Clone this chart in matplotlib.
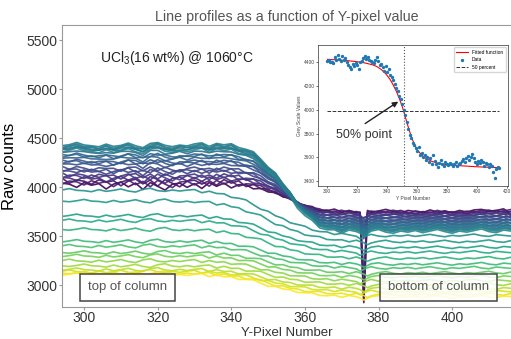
import numpy as np
import matplotlib
matplotlib.use('Agg')
import matplotlib.pyplot as plt

plt.rcParams['font.family'] = ['Liberation Sans', 'DejaVu Sans']
plt.rcParams['mathtext.default'] = 'regular'

# sample positions of the profiles (extra samples around the dead pixel)
x_pix = np.concatenate([np.arange(294, 375, 2), [375, 376, 377], np.arange(378, 417, 2)])

# normalised step shapes (1 = top plateau, 0 = bottom plateau)
shape_sharp = [1.0] * 24 + [0.98, 0.94, 0.89, 0.83, 0.76, 0.66, 0.55, 0.43, 0.31, 0.20,
                            0.12, 0.06, 0.03, 0.01] + [0.0] * 26
shape_soft = [1.0] * 17 + [0.99, 0.98, 0.97, 0.95, 0.93, 0.90, 0.86, 0.81, 0.75, 0.68,
                           0.61, 0.53, 0.45, 0.38, 0.31, 0.25, 0.19, 0.14, 0.10, 0.07,
                           0.05, 0.03, 0.02, 0.01] + [0.0] * 23

# shared wiggles along the column (counts)
wiggle_a = [0, 15, 35, 10, 5, -10, 20, -5, 10, 30, 0, -15, 25, 40, 5, -5, 15, 0, 20, 35,
            -5, 30, 10, 25, 0, 20, 35, 10, -10, 15, 0, 10, -10, 5, 20, -5, 0, 15, -10, 20,
            5, -10, -40, -15, 10, 25, 0, -10, 10, 0, 15, -5, 10, 25, 5, -10, 10, 0, 15, 30,
            5, -5, 20, 10]
wiggle_b = [-20, 10, 0, -30, 15, -10, 5, -45, 0, 20, -25, 10, -50, 15, -20, -55, 0, 10, -30, 5,
            -40, 15, -20, 10, -35, 0, 10, -15, 5, -10, 10, 0, 15, -5, 10, 20, -5, 5, 25, 0,
            10, 0, -10, 5, 15, 0, 10, 25, 5, -10, 15, 5, -5, 20, 0, 10, -5, 15, 0, 20,
            25, 5, 15, 30]

# plateau levels of each profile, in acquisition order
bundle_top = [4030, 4060, 4050, 4090, 4120, 4110, 4160, 4190, 4170, 4230, 4260,
              4250, 4290, 4320, 4310, 4350, 4380, 4400, 4385, 4420, 4405, 4360]
bundle_bottom = [3745, 3735, 3740, 3725, 3715, 3705, 3695, 3685, 3675, 3665, 3655,
                 3645, 3635, 3625, 3615, 3605, 3595, 3585, 3575, 3565, 3555, 3540]
late_top = [3960, 3850, 3700, 3650, 3560, 3440, 3390, 3325, 3290, 3240, 3190, 3150, 3130, 3115, 3100]
late_bottom = [3500, 3440, 3380, 3330, 3270, 3210, 3170, 3120, 3080, 3040, 3000, 2960, 2930, 2900, 2875]
spike_depth = [930, 880, 620, 250, 120]

# inset: one profile with its fit
inset_x = np.arange(300, 416)
inset_y = [4410, 4420, 4405, 4400, 4395, 4445, 4420, 4460, 4430, 4410,
           4455, 4420, 4440, 4400, 4380, 4360, 4345, 4390, 4370, 4395,
           4380, 4340, 4400, 4410, 4440, 4450, 4430, 4445, 4420, 4410,
           4405, 4395, 4420, 4445, 4410, 4380, 4390, 4360, 4330, 4370,
           4320, 4340, 4290, 4280, 4250, 4220, 4180, 4160, 4120, 4090,
           4050, 4000, 3960, 3900, 3840, 3790, 3760, 3720, 3700, 3680,
           3650, 3690, 3620, 3640, 3600, 3620, 3580, 3600, 3560, 3590,
           3540, 3620, 3570, 3540, 3520, 3555, 3575, 3545, 3530, 3560,
           3540, 3535, 3555, 3540, 3525, 3545, 3560, 3530, 3545, 3550,
           3570, 3585, 3560, 3590, 3610, 3580, 3600, 3625, 3590, 3560,
           3545, 3570, 3550, 3580, 3560, 3530, 3550, 3545, 3520, 3540,
           3530, 3480, 3425, 3500, 3520, 3510]
fit_x = [300, 305, 310, 315, 320, 325, 330, 333, 336, 339, 342, 344, 346, 348, 350,
         351, 352, 354, 356, 358, 360, 363, 366, 370, 375, 380, 390, 400, 410, 415]
fit_y = [4425, 4422, 4418, 4412, 4405, 4395, 4380, 4365, 4340, 4305, 4255, 4210, 4160, 4100, 4030,
         3990, 3945, 3860, 3780, 3715, 3665, 3620, 3590, 3565, 3548, 3538, 3528, 3520, 3515, 3512]
half_x = 351.5
half_y = 3990

fig = plt.figure(figsize=(5.11, 3.39), dpi=100)
ax = fig.add_axes([0.1213, 0.0944, 0.8787, 0.8319])

wa = np.array(wiggle_a, dtype=float)
wb = np.array(wiggle_b, dtype=float)
spike_i = list(x_pix).index(376)

nb = len(bundle_top)
t = np.linspace(0, 1, nb)
bundle_colors = plt.cm.viridis(0.45 * t ** 0.7)
for i in range(nb):
    mix = t[i]
    shift = (i * 2) % 3 - 1
    wig = 1.1 * ((1 - mix) * np.roll(wb, shift) + mix * wa)
    y = bundle_bottom[i] + (bundle_top[i] - bundle_bottom[i]) * np.array(shape_sharp) + wig
    if i < len(spike_depth):
        y[spike_i] -= spike_depth[i]
    ax.plot(x_pix, y, color=bundle_colors[i], lw=1.2, alpha=0.9)

nl = len(late_top)
late_colors = plt.cm.viridis(np.linspace(0.5, 1.0, nl))
for i in range(nl):
    shift = (i * 2) % 3 - 1
    wig = 0.7 * np.roll(wa, shift)
    y = late_bottom[i] + (late_top[i] - late_bottom[i]) * np.array(shape_soft) + wig
    ax.plot(x_pix, y, color=late_colors[i], lw=1.2, alpha=0.9)

ax.set_xlim(294, 416)
ax.set_ylim(2776, 5655)
ax.set_xticks(range(300, 401, 20))
ax.set_yticks(range(3000, 5501, 500))
for s in ['left', 'bottom', 'top']:
    ax.spines[s].set_color('#999999')
ax.spines['right'].set_visible(False)
ax.tick_params(labelsize=10, labelcolor='#333333', color='#999999', length=2, pad=1)
ax.set_title('Line profiles as a function of Y-pixel value', fontsize=10.3, color='#555555', pad=3)
ax.set_xlabel('Y-Pixel Number', fontsize=9.5, color='#333333')
ax.xaxis.set_label_coords(0.5, -0.071)
ax.set_ylabel('Raw counts', fontsize=12)
ax.yaxis.set_label_coords(-0.1, 0.5)

fig.text(0.196, 0.829, 'UCl$_3$(16 wt%) @ 1060°C', fontsize=10, color='#222222', va='center')
box = dict(boxstyle='square,pad=0.6', fc=(1, 1, 1, 0.85), ec='#444444', lw=1.1)
fig.text(0.2495, 0.152, 'top of column', fontsize=9.5, color='#555555', ha='center', va='center', bbox=box)
fig.text(0.858, 0.152, 'bottom of column', fontsize=9.5, color='#555555', ha='center', va='center', bbox=box)

# inset
ins = fig.add_axes([318 / 511, 1 - 186 / 339, 190 / 511, 141 / 339])
ins.scatter(inset_x, inset_y, s=2, color='#1f77b4', label='Data', zorder=3)
ins.plot(fit_x, fit_y, color='red', lw=0.8, label='Fitted function', zorder=2)
ins.hlines(half_y, 300, 415, colors='#333333', linestyles='--', lw=0.7, label='50 percent')
ins.axvline(half_x, color='#555555', ls=':', lw=0.8)
ins.set_xlim(293.7, 420.9)
ins.set_ylim(3358, 4546)
ins.set_xticks(range(300, 421, 20))
ins.set_yticks(range(3400, 4401, 200))
ins.tick_params(labelsize=3.5, length=1.5, width=0.4, pad=1, labelcolor='#444444')
for s in ins.spines.values():
    s.set_linewidth(0.5)
    s.set_color('#333333')
ins.set_xlabel('Y Pixel Number', fontsize=3.5, color='#444444', labelpad=1)
ins.set_ylabel('Grey Scale Values', fontsize=3.5, color='#444444', labelpad=1)
h, l = ins.get_legend_handles_labels()
order = [l.index('Fitted function'), l.index('Data'), l.index('50 percent')]
ins.legend([h[k] for k in order], [l[k] for k in order], fontsize=3.5, loc='upper right',
           frameon=True, borderpad=0.5, handlelength=2.5)

fig.text(0.712, 0.602, '50% point', fontsize=9, color='#333333', ha='center', va='center')
ins.annotate('', xy=(349, 4082), xycoords='data', xytext=(0.710, 0.631), textcoords='figure fraction',
             arrowprops=dict(arrowstyle='-|>', color='#222222', lw=1, mutation_scale=8))

fig.savefig('out.png', dpi=100)
